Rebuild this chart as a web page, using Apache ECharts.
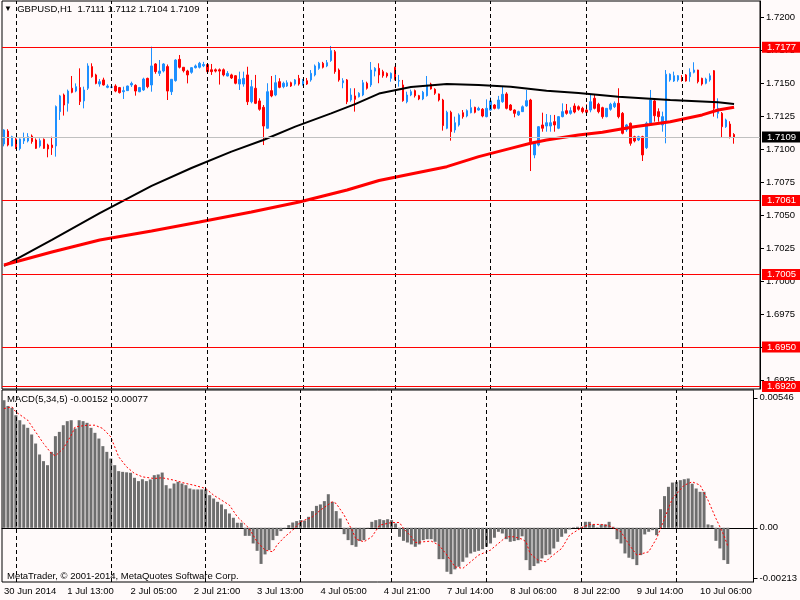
<!DOCTYPE html>
<html>
<head>
<meta charset="utf-8">
<script src="https://cdn.jsdelivr.net/npm/echarts@6/dist/echarts.min.js"></script>
<style>
  html, body { margin: 0; padding: 0; background: #FFFAFA; }
  #chart { width: 800px; height: 600px; }
</style>
</head>
<body>
<div id="chart"></div>
<script>
// hourly bars, day by day: [day, first hour, last hour]
const hourDays = [
  ['30 Jun', 21, 23], ['1 Jul', 0, 23], ['2 Jul', 0, 23], ['3 Jul', 0, 23], ['4 Jul', 0, 22],
  ['7 Jul', 0, 23], ['8 Jul', 0, 23], ['9 Jul', 0, 23], ['10 Jul', 0, 19]
];
const firstLabel = '30 Jun 2014';
const labelStep = 16;
const separators = [3, 27, 51, 75, 98, 122, 146, 170]; // day starts

// GBPUSD H1 candles
const opens = [
  1.71038, 1.71136, 1.71023, 1.71076, 1.71003, 1.71061, 1.71061, 1.71098, 1.71068, 1.71023,
  1.71073, 1.71030, 1.71030, 1.71023, 1.71283, 1.71409, 1.71346, 1.71460, 1.71439, 1.71465,
  1.71364, 1.71460, 1.71624, 1.71561, 1.71492, 1.71523, 1.71467, 1.71467, 1.71477, 1.71465,
  1.71434, 1.71442, 1.71485, 1.71482, 1.71434, 1.71447, 1.71535, 1.71485, 1.71644, 1.71573,
  1.71591, 1.71624, 1.71434, 1.71518, 1.71679, 1.71619, 1.71591, 1.71581, 1.71616, 1.71619,
  1.71630, 1.71640, 1.71600, 1.71600, 1.71600, 1.71600, 1.71553, 1.71561, 1.71555, 1.71492,
  1.71492, 1.71561, 1.71358, 1.71460, 1.71364, 1.71316, 1.71157, 1.71442, 1.71409, 1.71510,
  1.71472, 1.71477, 1.71502, 1.71492, 1.71535, 1.71492, 1.71517, 1.71523, 1.71561, 1.71611,
  1.71649, 1.71629, 1.71670, 1.71737, 1.71598, 1.71502, 1.71523, 1.71371, 1.71402, 1.71396,
  1.71409, 1.71498, 1.71485, 1.71590, 1.71611, 1.71586, 1.71573, 1.71535, 1.71619, 1.71515,
  1.71485, 1.71358, 1.71409, 1.71442, 1.71404, 1.71379, 1.71404, 1.71492, 1.71452, 1.71417,
  1.71371, 1.71157, 1.71278, 1.71144, 1.71182, 1.71275, 1.71250, 1.71275, 1.71316, 1.71295,
  1.71301, 1.71245, 1.71295, 1.71333, 1.71308, 1.71358, 1.71417, 1.71333, 1.71295, 1.71258,
  1.71283, 1.71326, 1.71371, 1.70955, 1.71030, 1.71182, 1.71174, 1.71174, 1.71207, 1.71157,
  1.71245, 1.71290, 1.71270, 1.71326, 1.71320, 1.71308, 1.71295, 1.71295, 1.71384, 1.71339,
  1.71313, 1.71245, 1.71301, 1.71320, 1.71346, 1.71270, 1.71144, 1.71195, 1.71093, 1.71068,
  1.71093, 1.71010, 1.71195, 1.71364, 1.71283, 1.71182, 1.71207, 1.71523, 1.71515, 1.71523,
  1.71540, 1.71561, 1.71548, 1.71581, 1.71598, 1.71535, 1.71498, 1.71523, 1.71593, 1.71270,
  1.71270, 1.71169, 1.71189, 1.71110
];
const highs = [
  1.7115, 1.7115, 1.7110, 1.7109, 1.7108, 1.71124, 1.7112, 1.7111, 1.7108, 1.7108,
  1.7108, 1.7104, 1.71093, 1.71330, 1.7141, 1.7142, 1.7145, 1.71553, 1.71497, 1.71611,
  1.71472, 1.71649, 1.71649, 1.7157, 1.7153, 1.7154, 1.7149, 1.7148, 1.7149, 1.7147,
  1.71472, 1.7148, 1.7151, 1.7149, 1.7147, 1.7154, 1.7154, 1.71775, 1.7165, 1.71674,
  1.7165, 1.7164, 1.7153, 1.7168, 1.71712, 1.7162, 1.7160, 1.7162, 1.7164, 1.7166,
  1.7166, 1.7165, 1.71644, 1.7161, 1.7161, 1.7161, 1.7159, 1.7157, 1.7156, 1.71586,
  1.71586, 1.71623, 1.71523, 1.71561, 1.71384, 1.71333, 1.71498, 1.71553, 1.71561, 1.71536,
  1.7151, 1.7152, 1.7151, 1.7153, 1.71561, 1.7153, 1.71538, 1.71598, 1.7164, 1.7166,
  1.7166, 1.71674, 1.7178, 1.7175, 1.7161, 1.71536, 1.7153, 1.7146, 1.7146, 1.7143,
  1.71523, 1.7151, 1.71659, 1.7162, 1.71649, 1.7160, 1.7158, 1.7158, 1.71623, 1.71561,
  1.71523, 1.71434, 1.7145, 1.7145, 1.7141, 1.7144, 1.71553, 1.71502, 1.7146, 1.7142,
  1.7138, 1.7129, 1.7129, 1.71245, 1.7127, 1.71295, 1.7130, 1.71376, 1.7132, 1.7132,
  1.7131, 1.71376, 1.71392, 1.7134, 1.71402, 1.71472, 1.7143, 1.7134, 1.7130, 1.7129,
  1.7133, 1.71447, 1.7138, 1.7105, 1.71174, 1.71275, 1.71265, 1.71258, 1.71258, 1.7125,
  1.71346, 1.71341, 1.71316, 1.71346, 1.7133, 1.7132, 1.71339, 1.71409, 1.71414, 1.7135,
  1.7132, 1.7131, 1.7135, 1.7136, 1.7146, 1.7128, 1.7119, 1.7120, 1.7110, 1.7110,
  1.7110, 1.71207, 1.71447, 1.71384, 1.71308, 1.71283, 1.71598, 1.71573, 1.71586, 1.7156,
  1.7156, 1.71568, 1.71611, 1.71657, 1.7160, 1.7154, 1.7154, 1.71573, 1.71598, 1.71384,
  1.7128, 1.7123, 1.7121, 1.7112
];
const lows = [
  1.7102, 1.7102, 1.7102, 1.7100, 1.7099, 1.71038, 1.7105, 1.7104, 1.7100, 1.7101,
  1.7100, 1.70937, 1.70955, 1.70942, 1.7122, 1.71253, 1.71283, 1.71422, 1.7143, 1.71333,
  1.71308, 1.71447, 1.7154, 1.7149, 1.71472, 1.7148, 1.7146, 1.7146, 1.7143, 1.7142,
  1.71379, 1.7144, 1.7147, 1.71404, 1.7143, 1.7144, 1.7146, 1.71434, 1.7157, 1.71553,
  1.7158, 1.71371, 1.71409, 1.7151, 1.7161, 1.7158, 1.71497, 1.7157, 1.7161, 1.7161,
  1.7162, 1.7158, 1.71561, 1.7158, 1.71488, 1.7155, 1.7155, 1.7153, 1.7149, 1.71447,
  1.71472, 1.71333, 1.71346, 1.71340, 1.71290, 1.71030, 1.71155, 1.71392, 1.71400, 1.71460,
  1.7146, 1.7147, 1.7147, 1.7148, 1.7148, 1.7148, 1.71485, 1.7151, 1.7155, 1.7160,
  1.7161, 1.7162, 1.7166, 1.7157, 1.7151, 1.7146, 1.7134, 1.71358, 1.71283, 1.7139,
  1.7140, 1.7145, 1.7147, 1.7155, 1.71498, 1.7154, 1.7154, 1.7151, 1.7152, 1.71472,
  1.71358, 1.71346, 1.7140, 1.7139, 1.7137, 1.7137, 1.71397, 1.7145, 1.7141, 1.7136,
  1.71139, 1.7115, 1.71063, 1.71123, 1.7117, 1.7123, 1.7124, 1.7127, 1.7127, 1.7129,
  1.7124, 1.7124, 1.7129, 1.7130, 1.7130, 1.7135, 1.7130, 1.7129, 1.7124, 1.7125,
  1.7128, 1.7132, 1.70833, 1.7093, 1.7102, 1.71131, 1.71131, 1.71131, 1.71131, 1.7115,
  1.7124, 1.7126, 1.7126, 1.7127, 1.7129, 1.7127, 1.71263, 1.71278, 1.7130, 1.7127,
  1.7123, 1.7124, 1.7129, 1.7131, 1.71232, 1.71111, 1.7113, 1.71025, 1.7105, 1.7106,
  1.70909, 1.7100, 1.71182, 1.71207, 1.71207, 1.71131, 1.71043, 1.7151, 1.71508, 1.7151,
  1.7151, 1.7151, 1.7151, 1.71573, 1.71497, 1.7148, 1.7149, 1.7151, 1.71245, 1.71232,
  1.71086, 1.7116, 1.7108, 1.7104
];
const closes = [
  1.71144, 1.71030, 1.71093, 1.71010, 1.71076, 1.71081, 1.71093, 1.71056, 1.71005, 1.71063,
  1.71005, 1.71000, 1.71010, 1.71321, 1.71402, 1.71333, 1.71439, 1.71429, 1.71472, 1.71359,
  1.71447, 1.71629, 1.71548, 1.71497, 1.71510, 1.71485, 1.71477, 1.71470, 1.71439, 1.71427,
  1.71442, 1.71477, 1.71497, 1.71439, 1.71465, 1.71530, 1.71472, 1.71629, 1.71586, 1.71591,
  1.71644, 1.71439, 1.71528, 1.71674, 1.71619, 1.71593, 1.71561, 1.71616, 1.71629, 1.71649,
  1.71640, 1.71586, 1.71586, 1.71590, 1.71590, 1.71561, 1.71573, 1.71538, 1.71498, 1.71528,
  1.71535, 1.71358, 1.71472, 1.71346, 1.71301, 1.71174, 1.71434, 1.71402, 1.71502, 1.71467,
  1.71498, 1.71502, 1.71477, 1.71523, 1.71492, 1.71517, 1.71492, 1.71573, 1.71629, 1.71649,
  1.71619, 1.71654, 1.71745, 1.71586, 1.71523, 1.71517, 1.71358, 1.71409, 1.71376, 1.71422,
  1.71502, 1.71460, 1.71598, 1.71611, 1.71561, 1.71555, 1.71553, 1.71573, 1.71528, 1.71517,
  1.71366, 1.71409, 1.71434, 1.71404, 1.71379, 1.71430, 1.71485, 1.71455, 1.71422, 1.71371,
  1.71177, 1.71278, 1.71131, 1.71199, 1.71258, 1.71245, 1.71290, 1.71313, 1.71278, 1.71308,
  1.71250, 1.71308, 1.71364, 1.71308, 1.71371, 1.71414, 1.71308, 1.71295, 1.71270, 1.71283,
  1.71320, 1.71366, 1.71055, 1.71043, 1.71169, 1.71157, 1.71199, 1.71199, 1.71182, 1.71245,
  1.71283, 1.71270, 1.71290, 1.71280, 1.71301, 1.71283, 1.71278, 1.71358, 1.71308, 1.71283,
  1.71245, 1.71308, 1.71339, 1.71346, 1.71245, 1.71119, 1.71182, 1.71043, 1.71061, 1.71093,
  1.70955, 1.71195, 1.71371, 1.71252, 1.71245, 1.71245, 1.71566, 1.71566, 1.71555, 1.71555,
  1.71523, 1.71515, 1.71581, 1.71598, 1.71510, 1.71492, 1.71530, 1.71555, 1.71308, 1.71308,
  1.71169, 1.71220, 1.71093, 1.71090
];

// moving averages, read at sample bars: [bar, price]
const maBlack = [
  [0, 1.70114], [12, 1.70311], [24, 1.70515], [37, 1.70720], [47, 1.70856], [57, 1.70980],
  [65, 1.71068], [73, 1.71169], [82, 1.71270], [88, 1.71340], [94, 1.71420], [102, 1.71470],
  [111, 1.71492], [119, 1.71485], [127, 1.71472], [136, 1.71442], [144, 1.71424], [154, 1.71396],
  [167, 1.71371], [179, 1.71354], [183, 1.71341]
];
const maRed = [
  [0, 1.70121], [12, 1.70220], [24, 1.70311], [37, 1.70379], [49, 1.70447], [62, 1.70523],
  [74, 1.70598], [86, 1.70689], [94, 1.70761], [102, 1.70811], [111, 1.70866], [119, 1.70942],
  [127, 1.71005], [132, 1.71043], [136, 1.71068], [144, 1.71106], [150, 1.71127], [158, 1.71169],
  [167, 1.71207], [175, 1.71258], [179, 1.71295], [183, 1.71316]
];

// horizontal levels and last bid
const levels = [1.7177, 1.7061, 1.7005, 1.6950, 1.6920];
const bid = 1.7109;
const priceTicks = [1.6925, 1.6950, 1.6975, 1.7000, 1.7025, 1.7050, 1.7075, 1.7100, 1.7125, 1.7150, 1.7175, 1.7200];
const priceMin = 1.69182, priceMax = 1.72121;

// MACD(5,34,5) histogram
const macd = [
  0.00536, 0.00512, 0.00504, 0.00473, 0.00452, 0.00434, 0.00420, 0.00392, 0.00354, 0.00308,
  0.00280, 0.00263, 0.00319, 0.00385, 0.00403, 0.00431, 0.00448, 0.00452, 0.00417, 0.00452,
  0.00448, 0.00441, 0.00420, 0.00399, 0.00375, 0.00343, 0.00319, 0.00291, 0.00263, 0.00238,
  0.00235, 0.00233, 0.00231, 0.00210, 0.00196, 0.00204, 0.00196, 0.00203, 0.00221, 0.00224,
  0.00232, 0.00179, 0.00165, 0.00186, 0.00193, 0.00186, 0.00179, 0.00165, 0.00161, 0.00161,
  0.00161, 0.00161, 0.00137, 0.00123, 0.00109, 0.00098, 0.00078, 0.00060, 0.00042, 0.00021,
  0.00021, -0.00034, -0.00034, -0.00066, -0.00097, -0.00152, -0.00112, -0.00094, -0.00052, -0.00034,
  -0.00014, -0.00003, 0.00011, 0.00022, 0.00028, 0.00032, 0.00030, 0.00046, 0.00070, 0.00092,
  0.00098, 0.00112, 0.00141, 0.00109, 0.00070, 0.00039, -0.00027, -0.00052, -0.00073, -0.00080,
  -0.00056, -0.00052, -0.00003, 0.00025, 0.00032, 0.00036, 0.00032, 0.00036, 0.00032, 0.00018,
  -0.00038, -0.00055, -0.00062, -0.00070, -0.00080, -0.00070, -0.00052, -0.00048, -0.00048, -0.00059,
  -0.00132, -0.00132, -0.00185, -0.00195, -0.00175, -0.00164, -0.00143, -0.00125, -0.00108, -0.00101,
  -0.00097, -0.00090, -0.00080, -0.00066, -0.00042, -0.00017, -0.00024, -0.00048, -0.00059, -0.00056,
  -0.00052, -0.00036, -0.00136, -0.00178, -0.00161, -0.00150, -0.00129, -0.00115, -0.00112, -0.00087,
  -0.00059, -0.00038, -0.00024, -0.00007, 0.00002, 0.00004, 0.00004, 0.00025, 0.00025, 0.00014,
  0.00002, 0.00014, 0.00014, 0.00025, 0.00004, -0.00048, -0.00066, -0.00108, -0.00126, -0.00132,
  -0.00157, -0.00115, -0.00028, -0.00017, -0.00010, -0.00031, 0.00078, 0.00133, 0.00172, 0.00190,
  0.00193, 0.00200, 0.00204, 0.00207, 0.00185, 0.00165, 0.00151, 0.00151, 0.00014, 0.00011,
  -0.00055, -0.00087, -0.00136, -0.00152
];
// signal line, read at sample bars: [bar, value]
const signal = [
  [0, 0.00501], [2, 0.00508], [3, 0.00487], [6, 0.00452], [8, 0.00403], [10, 0.00354], [12, 0.00312],
  [13, 0.00302], [15, 0.00333], [17, 0.00389], [18, 0.00424], [21, 0.00431], [23, 0.00431], [25, 0.00417],
  [27, 0.00382], [28, 0.00340], [29, 0.00298], [31, 0.00256], [33, 0.00228], [35, 0.00214], [38, 0.00207],
  [40, 0.00210], [43, 0.00200], [46, 0.00186], [48, 0.00179], [51, 0.00165], [53, 0.00137], [57, 0.00095],
  [59, 0.00046], [62, -0.00003], [64, -0.00059], [66, -0.00094], [68, -0.00101], [69, -0.00073],
  [71, -0.00038], [73, -0.00010], [75, 0.00025], [78, 0.00046], [80, 0.00074], [83, 0.00109],
  [84, 0.00102], [86, 0.00053], [88, -0.00010], [89, -0.00048], [91, -0.00059], [93, -0.00038],
  [95, 0.00011], [98, 0.00022], [100, 0.00022], [101, -0.00003], [103, -0.00038], [104, -0.00062],
  [106, -0.00059], [108, -0.00056], [110, -0.00073], [112, -0.00115], [114, -0.00164], [116, -0.00171],
  [118, -0.00143], [120, -0.00115], [123, -0.00094], [124, -0.00080], [127, -0.00038], [129, -0.00038],
  [131, -0.00048], [132, -0.00059], [133, -0.00108], [135, -0.00136], [137, -0.00143], [138, -0.00126],
  [141, -0.00087], [143, -0.00031], [146, 0.00000], [148, 0.00014], [151, 0.00014], [153, 0.00008],
  [156, -0.00017], [158, -0.00070], [160, -0.00115], [163, -0.00101], [165, -0.00045], [167, 0.00039],
  [169, 0.00123], [172, 0.00179], [174, 0.00193], [176, 0.00179], [178, 0.00116], [180, 0.00039],
  [182, -0.00031], [183, -0.00077]
];
const macdTicks = [0.00546, 0, -0.00213];
const macdMin = -0.00228, macdMax = 0.00579;

const categories = [];
hourDays.forEach(([day, from, to]) => {
  for (let h = from; h <= to; h++) categories.push(day + ' ' + String(h).padStart(2, '0') + ':00');
});
const candles = opens.map((o, i) => [o, closes[i], lows[i], highs[i]]);
const last = opens.length - 1;
const font = 'Liberation Sans';
const everyLabel = (i) => i % labelStep === 0;

const sepLines = separators.map(i => ({
  xAxis: categories[i],
  lineStyle: { color: '#000', type: [4, 3], width: 1 },
  label: { show: false }
}));
const boxLabel = (bg) => ({
  show: true, position: 'end', distance: 2,
  formatter: p => Number(p.value).toFixed(4),
  backgroundColor: bg, color: '#fff', fontFamily: font, fontSize: 9.5,
  padding: [1, 6, 0, 5], lineHeight: 10
});
const levelLines = levels.map(v => ({
  yAxis: v, lineStyle: { color: '#FF0000', type: 'solid', width: 1 }, label: boxLabel('#FF0000')
}));
levelLines.push({ yAxis: bid, lineStyle: { color: '#C0C0C0', type: 'solid', width: 1 }, label: boxLabel('#000') });

const chart = echarts.init(document.getElementById('chart'));
chart.setOption({
  animation: false,
  backgroundColor: '#FFFAFA',
  textStyle: { fontFamily: font },
  title: [
    {
      text: '{i|▼}  GBPUSD,H1  ' + [opens[last], highs[last], lows[last], closes[last]].map(v => v.toFixed(4)).join(' '),
      left: 4, top: 4, padding: 0,
      textStyle: { fontSize: 9.5, fontWeight: 'normal', color: '#000', fontFamily: font, rich: { i: { fontSize: 8, color: '#000' } } }
    },
    {
      text: 'MACD(5,34,5) ' + macd[last].toFixed(5) + ' ' + signal[signal.length - 1][1].toFixed(5),
      left: 7, top: 394, padding: 0,
      textStyle: { fontSize: 9.5, fontWeight: 'normal', color: '#000', fontFamily: font }
    },
    {
      text: 'MetaTrader, © 2001-2014, MetaQuotes Software Corp.',
      left: 7, top: 571, padding: 0,
      textStyle: { fontSize: 9.5, fontWeight: 'normal', color: '#000', fontFamily: font }
    }
  ],
  grid: [
    { left: 2, top: 1, right: 40, height: 388, show: true, borderColor: '#000', borderWidth: 1 },
    { left: 2, top: 390, right: 40, height: 192, show: true, borderColor: '#000', borderWidth: 1 }
  ],
  xAxis: [
    {
      type: 'category', gridIndex: 0, data: categories,
      axisLine: { show: false }, axisTick: { show: false }, axisLabel: { show: false }, splitLine: { show: false }
    },
    {
      type: 'category', gridIndex: 1, data: categories,
      axisLine: { lineStyle: { color: '#000' } },
      axisTick: { alignWithLabel: true, interval: everyLabel, length: 4, lineStyle: { color: '#000' } },
      axisLabel: {
        interval: everyLabel, align: 'left', margin: 4, fontSize: 9.5, color: '#000', fontFamily: font,
        formatter: (v, i) => (i === 0 ? firstLabel : v)
      },
      splitLine: { show: false }
    }
  ],
  yAxis: [
    {
      type: 'value', gridIndex: 0, position: 'right', min: priceMin, max: priceMax,
      axisLine: { show: true, lineStyle: { color: '#000' } },
      axisTick: { show: true, customValues: priceTicks, length: 4, lineStyle: { color: '#000' } },
      axisLabel: { customValues: priceTicks, formatter: v => v.toFixed(4), fontSize: 9.5, color: '#000', margin: 6, fontFamily: font },
      splitLine: { show: false }
    },
    {
      type: 'value', gridIndex: 1, position: 'right', min: macdMin, max: macdMax,
      axisLine: { show: true, lineStyle: { color: '#000' } },
      axisTick: { show: true, customValues: macdTicks, length: 4, lineStyle: { color: '#000' } },
      axisLabel: {
        customValues: macdTicks, formatter: v => (v === 0 ? '0.00' : v.toFixed(5)),
        fontSize: 9.5, color: '#000', margin: 6, fontFamily: font
      },
      splitLine: { show: false }
    }
  ],
  series: [
    {
      type: 'candlestick', xAxisIndex: 0, yAxisIndex: 0, data: candles, barWidth: 2, z: 2,
      itemStyle: { color: '#1E90FF', color0: '#FF0000', borderColor: '#1E90FF', borderColor0: '#FF0000', borderWidth: 1 },
      markLine: { symbol: 'none', silent: true, animation: false, precision: 5, data: sepLines.concat(levelLines) }
    },
    {
      type: 'line', xAxisIndex: 0, yAxisIndex: 0, data: maBlack, showSymbol: false, z: 3,
      lineStyle: { color: '#000', width: 2 }
    },
    {
      type: 'line', xAxisIndex: 0, yAxisIndex: 0, data: maRed, showSymbol: false, z: 4,
      lineStyle: { color: '#FF0000', width: 3 }
    },
    {
      type: 'bar', xAxisIndex: 1, yAxisIndex: 1, data: macd, barWidth: 3,
      itemStyle: { color: '#6E6E6E' },
      markLine: { symbol: 'none', silent: true, animation: false, precision: 5, data: sepLines }
    },
    {
      type: 'line', xAxisIndex: 1, yAxisIndex: 1, data: signal, showSymbol: false, z: 4,
      lineStyle: { color: '#FF0000', width: 1, type: [2, 2] }
    }
  ]
});
</script>
</body>
</html>
